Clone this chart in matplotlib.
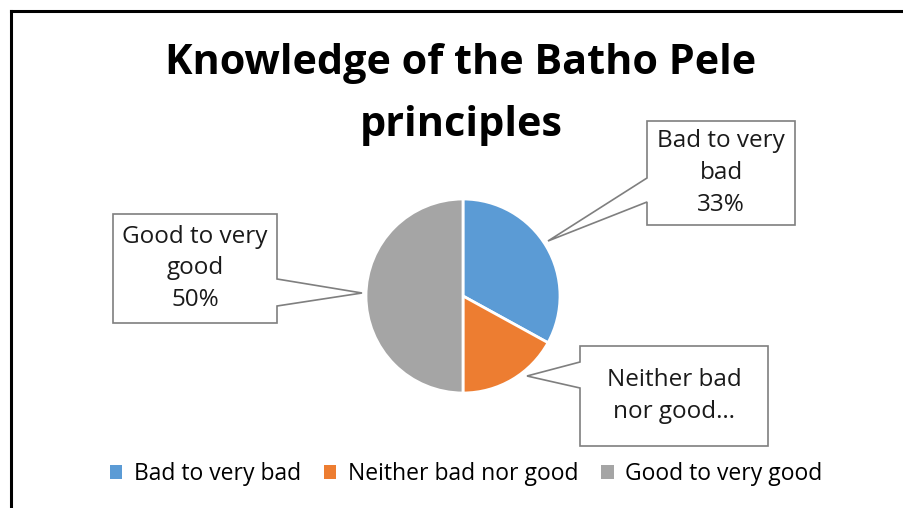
import matplotlib
matplotlib.use("Agg")
import numpy as np
import matplotlib.pyplot as plt
from matplotlib.patches import Polygon, Patch
from matplotlib.lines import Line2D
from matplotlib.transforms import IdentityTransform

categories = ["Bad to very bad", "Neither bad nor good", "Good to very good"]
values = [33, 17, 50]
box_texts = ["Bad to very\nbad\n33%", "Neither bad\nnor good\u2026", "Good to very\ngood\n50%"]
colors = ["#5B9BD5", "#ED7D31", "#A5A5A5"]
title_lines = ["Knowledge of the Batho Pele", "principles"]

W, H = 904, 508
plt.rcParams['font.family'] = ['Open Sans', 'DejaVu Sans']

fig = plt.figure(figsize=(W / 100, H / 100), dpi=100)

# pie placement (pixels, from top-left)
cx, cy, r = 463, 296, 97
ax = fig.add_axes([(cx - r) / W, (H - cy - r) / H, 2 * r / W, 2 * r / H])
wedges, _ = ax.pie(values, colors=colors, startangle=90, counterclock=False,
                   wedgeprops=dict(edgecolor="white", linewidth=2))
ax.set_xlim(-1, 1)
ax.set_ylim(-1, 1)
ax.set_aspect("equal")
ax.axis("off")

# callout boxes: (x0, y0, x1, y1) in px from top-left, pointer side, pointer base span
boxes = [
    dict(rect=(647, 121, 795, 225), side="left", base=(178, 202)),
    dict(rect=(580, 346, 768, 446), side="left", base=(362, 388)),
    dict(rect=(113, 214, 277, 323), side="right", base=(279, 306)),
]
tips = [(548, 241), (527, 376), (362, 293)]


def px(x, y):
    return (x, H - y)


for txt, b, tip in zip(box_texts, boxes, tips):
    x0, y0, x1, y1 = b["rect"]
    b0, b1 = b["base"]
    if b["side"] == "left":
        pts = [(x0, y0), (x1, y0), (x1, y1), (x0, y1), (x0, b1), tip, (x0, b0)]
    else:
        pts = [(x0, y0), (x1, y0), (x1, b0), tip, (x1, b1), (x1, y1), (x0, y1)]
    poly = Polygon([px(*p) for p in pts], closed=True, facecolor="white",
                   edgecolor="#7F7F7F", linewidth=1.2, transform=IdentityTransform())
    fig.patches.append(poly)
    fig.text((x0 + x1) / 2 / W, 1 - (y0 + y1) / 2 / H, txt, ha="center", va="center",
             fontsize=17.5, linespacing=1.42, color="#1a1a1a")

for line, ty in zip(title_lines, [63, 125]):
    fig.text(461 / W, 1 - ty / H, line, ha="center", va="center",
             fontsize=29.8, fontweight="bold", color="black")

handles = [Patch(facecolor=c, edgecolor="none") for c in colors]
fig.legend(handles, categories, loc="center", bbox_to_anchor=(466 / W, 1 - 474 / H), ncol=3,
           frameon=False, fontsize=16.5, handlelength=0.55, handleheight=0.55,
           handletextpad=0.5, columnspacing=1.0)

# chart frame (only left and top visible in the crop)
fig.add_artist(Line2D([11 / W, 11 / W], [0, 1 - 11 / H], color="black", linewidth=2.2,
                      transform=fig.transFigure))
fig.add_artist(Line2D([11 / W, 1], [1 - 11 / H, 1 - 11 / H], color="black", linewidth=2.2,
                      transform=fig.transFigure))

fig.savefig("out.png", dpi=100)
